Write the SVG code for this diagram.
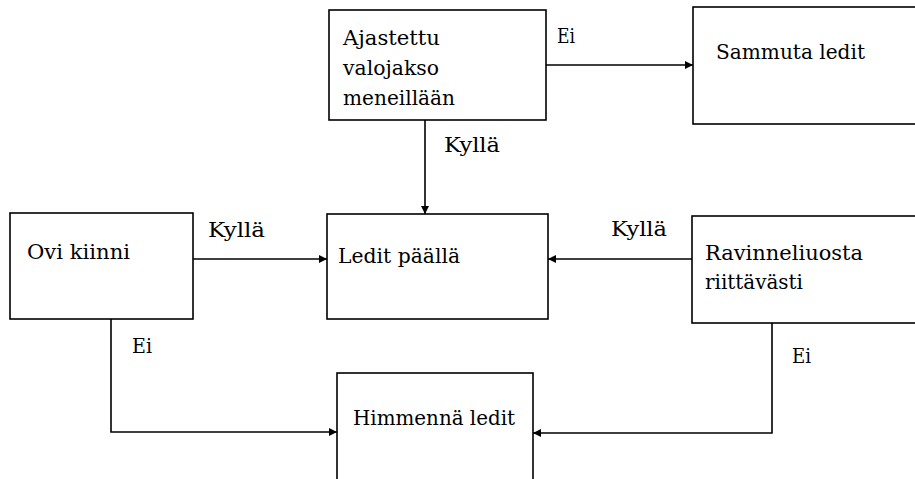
<svg xmlns="http://www.w3.org/2000/svg" width="915" height="479" viewBox="0 0 915 479">
<style>
.box{fill:#fff;stroke:#000;stroke-width:1.6}
.t{font-family:"DejaVu Serif","Liberation Serif",serif;font-size:20px;fill:#000}
.c{fill:none;stroke:#000;stroke-width:1.6}
</style>
<defs>
<marker id="ah" viewBox="0 0 10 10" refX="10" refY="5" markerWidth="8" markerHeight="8" markerUnits="userSpaceOnUse" orient="auto">
<path d="M0,0 L10,5 L0,10 Z" fill="#000"/>
</marker>
</defs>
<rect width="915" height="479" fill="#fff"/>
<g id="ajastettu">
<rect class="box" x="329" y="10" width="217" height="110"/>
<text class="t" x="343" y="45" textLength="97" lengthAdjust="spacingAndGlyphs">Ajastettu</text>
<text class="t" x="343" y="75" textLength="96" lengthAdjust="spacingAndGlyphs">valojakso</text>
<text class="t" x="343" y="105" textLength="112" lengthAdjust="spacingAndGlyphs">meneillään</text>
</g>
<g id="sammuta">
<rect class="box" x="693" y="7" width="240" height="117"/>
<text class="t" x="716" y="59" textLength="149" lengthAdjust="spacingAndGlyphs">Sammuta ledit</text>
</g>
<g id="ovi">
<rect class="box" x="10" y="213" width="183" height="106"/>
<text class="t" x="27" y="259" textLength="103" lengthAdjust="spacingAndGlyphs">Ovi kiinni</text>
</g>
<g id="ledit">
<rect class="box" x="327" y="214" width="221" height="105"/>
<text class="t" x="338" y="263" textLength="122" lengthAdjust="spacingAndGlyphs">Ledit päällä</text>
</g>
<g id="ravinne">
<rect class="box" x="692" y="216" width="240" height="107"/>
<text class="t" x="705" y="260" textLength="158" lengthAdjust="spacingAndGlyphs">Ravinneliuosta</text>
<text class="t" x="705" y="289" textLength="98" lengthAdjust="spacingAndGlyphs">riittävästi</text>
</g>
<g id="himmenna">
<rect class="box" x="337" y="373" width="196" height="120"/>
<text class="t" x="353" y="425" textLength="162" lengthAdjust="spacingAndGlyphs">Himmennä ledit</text>
</g>
<g id="connectors">
<path class="c" d="M546,65 L693,65" marker-end="url(#ah)"/>
<path class="c" d="M425,120 L425,214" marker-end="url(#ah)"/>
<path class="c" d="M193,259 L327,259" marker-end="url(#ah)"/>
<path class="c" d="M692,259 L548,259" marker-end="url(#ah)"/>
<path class="c" d="M111,319 L111,432 L337,432" marker-end="url(#ah)"/>
<path class="c" d="M772,323 L772,433 L533,433" marker-end="url(#ah)"/>
<text class="t" x="557" y="43" textLength="18" lengthAdjust="spacingAndGlyphs">Ei</text>
<text class="t" x="444" y="152" textLength="56" lengthAdjust="spacingAndGlyphs">Kyllä</text>
<text class="t" x="208" y="237" textLength="57" lengthAdjust="spacingAndGlyphs">Kyllä</text>
<text class="t" x="611" y="236" textLength="56" lengthAdjust="spacingAndGlyphs">Kyllä</text>
<text class="t" x="132" y="353" textLength="20" lengthAdjust="spacingAndGlyphs">Ei</text>
<text class="t" x="792" y="363" textLength="19" lengthAdjust="spacingAndGlyphs">Ei</text>
</g>
</svg>
